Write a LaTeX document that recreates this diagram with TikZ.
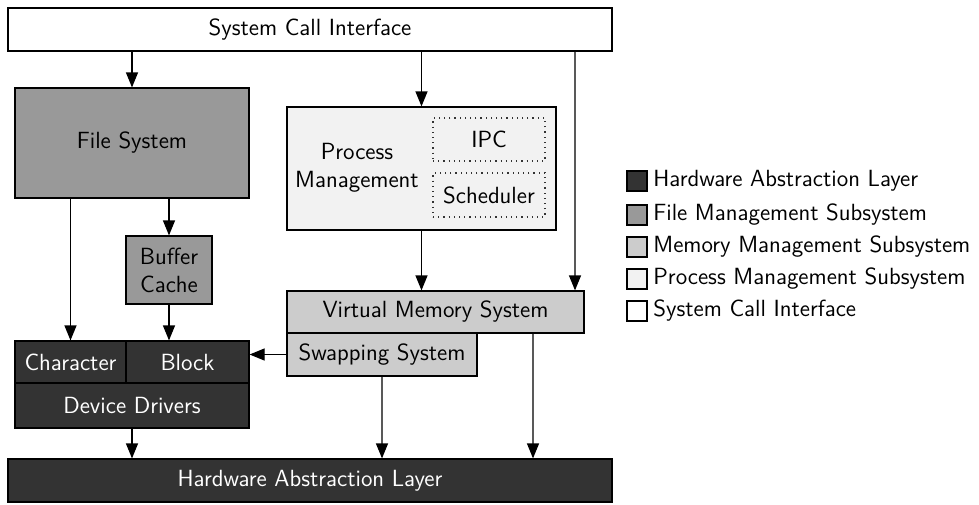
\documentclass[tikz,border=0pt]{standalone}
\usetikzlibrary{arrows.meta}
\definecolor{cHAL}{HTML}{333333}
\definecolor{cFS}{HTML}{999999}
\definecolor{cMEM}{HTML}{CCCCCC}
\definecolor{cPM}{HTML}{F2F2F2}
\begin{document}
\begin{tikzpicture}[x=0.5pt,y=-0.5pt,
  every node/.style={font=\sffamily\fontsize{11.7}{14}\selectfont},
  box/.style={draw=black, line width=0.6pt, inner sep=0pt, align=center},
  dark/.style={box, fill=cHAL, text=white},
  fsbox/.style={box, fill=cFS},
  membox/.style={box, fill=cMEM},
  pmbox/.style={box, fill=cPM},
  sub/.style={draw=black!80, dotted, line width=0.6pt, inner sep=0pt, fill=cPM, align=center},
  arr/.style={line width=0.6pt, -{Triangle[width=6pt,length=7.5pt,color=black]}},
  garr/.style={arr, draw=black!65},
  leg/.style={draw=black, line width=0.6pt, minimum width=10pt, minimum height=10pt, inner sep=0pt},
  legt/.style={anchor=west, inner sep=0pt}
]
\useasboundingbox[fill=white] (0,0) rectangle (979,504);

% boxes
\node[box, fill=white, minimum width=302pt, minimum height=21.5pt] (sci) at (310,29.5) {System Call Interface};
\node[fsbox, minimum width=117pt, minimum height=55pt] (fs) at (132,143) {File System};
\node[fsbox, minimum width=43pt, minimum height=34pt] (bc) at (169,270) {Buffer\\Cache};
\node[dark, minimum width=55.5pt, minimum height=21pt] (chr) at (70.5,362) {Character};
\node[dark, minimum width=61.5pt, minimum height=21pt] (blk) at (187.5,362) {Block};
\node[dark, minimum width=117pt, minimum height=22.5pt] (dd) at (132,405.5) {Device Drivers};
\node[pmbox, minimum width=134.5pt, minimum height=61.5pt] (pm) at (421.5,168.5) {};
\node[inner sep=0pt, align=center] (pmt) at (357,168) {Process\\Management};
\node[sub, minimum width=56pt, minimum height=21.5pt] (ipc) at (489,139.5) {IPC};
\node[sub, minimum width=56pt, minimum height=22pt] (sch) at (489,195) {Scheduler};
\node[membox, minimum width=148.5pt, minimum height=21pt] (vms) at (435.5,312) {Virtual Memory System};
\node[membox, minimum width=95pt, minimum height=21.5pt] (swp) at (382,354.5) {Swapping System};
\node[dark, minimum width=302pt, minimum height=21.5pt] (hal) at (310,480.5) {Hardware Abstraction Layer};

% helper coordinates
\coordinate (c1) at (575,0);
\coordinate (c2) at (533,0);

% connectors
\draw[arr] (sci.south -| fs) -- (fs.north);
\draw[arr] (sci.south -| pm) -- (pm.north);
\draw[garr] (sci.south -| c1) -- (vms.north -| c1);
\draw[arr] (fs.south -| chr) -- (chr.north);
\draw[arr] (fs.south -| bc) -- (bc.north);
\draw[arr] (bc.south) -- (blk.north -| bc);
\draw[arr] (pm.south) -- (vms.north -| pm);
\draw[arr] (swp.west) -- (blk.east |- swp.west);
\draw[garr] (swp.south) -- (hal.north -| swp);
\draw[garr] (vms.south -| c2) -- (hal.north -| c2);
\draw[arr] (dd.south) -- (hal.north -| dd);

% legend
\node[leg, fill=cHAL] (l1) at (637,181) {};
\node[leg, fill=cFS] (l2) at (637,215) {};
\node[leg, fill=cMEM] (l3) at (637,247) {};
\node[leg, fill=cPM] (l4) at (637,279) {};
\node[leg, fill=white] (l5) at (637,311) {};
\node[legt] (t1) at (653,181) {Hardware Abstraction Layer};
\node[legt] (t2) at (653,215) {File Management Subsystem};
\node[legt] (t3) at (653,247) {Memory Management Subsystem};
\node[legt] (t4) at (653,279) {Process Management Subsystem};
\node[legt] (t5) at (653,311) {System Call Interface};
\end{tikzpicture}
\end{document}
